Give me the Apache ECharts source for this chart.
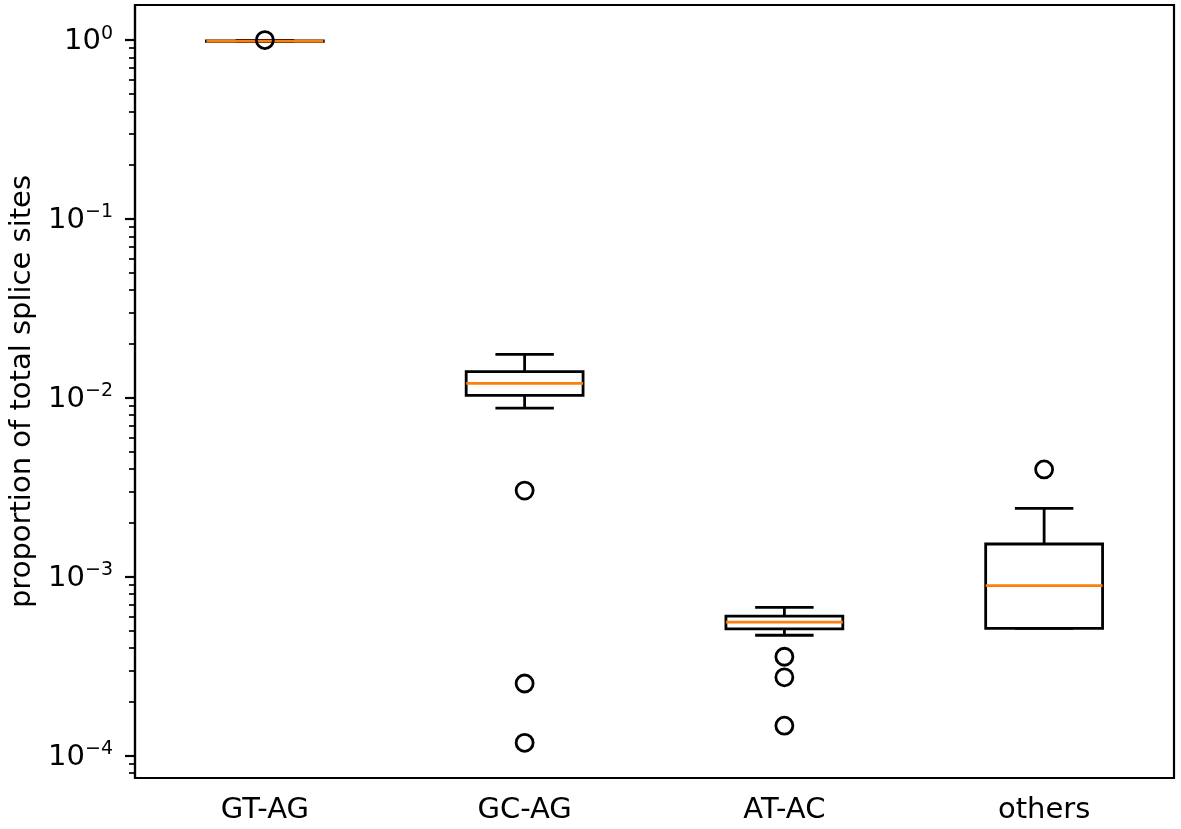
<!DOCTYPE html>
<html><head><meta charset="utf-8">
<script src="https://cdn.jsdelivr.net/npm/echarts@6/dist/echarts.min.js"></script>
<style>html,body{margin:0;padding:0;background:#fff}#c{width:1181px;height:829px}</style>
</head><body><div id="c"></div>
<script>
// ---- data ----
const categories = ['GT-AG', 'GC-AG', 'AT-AC', 'others'];
const lowerWhisker = [0.984, 0.00877, 0.000471, 0.000515];
const quartile1    = [0.985, 0.01033, 0.000511, 0.000515];
const medians      = [0.987, 0.01206, 0.000558, 0.000891];
const quartile3    = [0.989, 0.01400, 0.000603, 0.001524];
const upperWhisker = [0.997, 0.01750, 0.000675, 0.00241];
const outlierCategory = [0, 1, 1, 1, 2, 2, 2, 3];
const outlierValue    = [1.0, 0.00303, 0.000253, 0.000118, 0.000357, 0.000274, 0.000147, 0.00398];
const majorTicks = [1e-4, 1e-3, 1e-2, 1e-1, 1];
const majorTickExponents = ['\u22124', '\u22123', '\u22122', '\u22121', '0'];
const minorTicks = [8e-5, 9e-5,
  2e-4, 3e-4, 4e-4, 5e-4, 6e-4, 7e-4, 8e-4, 9e-4,
  2e-3, 3e-3, 4e-3, 5e-3, 6e-3, 7e-3, 8e-3, 9e-3,
  2e-2, 3e-2, 4e-2, 5e-2, 6e-2, 7e-2, 8e-2, 9e-2,
  2e-1, 3e-1, 4e-1, 5e-1, 6e-1, 7e-1, 8e-1, 9e-1];
const yLabel = 'proportion of total splice sites';

// ---- chart ----
const yMin = Math.pow(10, -4.125), yMax = Math.pow(10, 0.196);
const FONT = 'DejaVu Sans';
const boxData = categories.map((c, i) => [i, lowerWhisker[i], quartile1[i], medians[i], quartile3[i], upperWhisker[i]]);
const outlierData = outlierValue.map((v, i) => [outlierCategory[i], v]);

const chart = echarts.init(document.getElementById('c'), null, {renderer: 'canvas'});
const black = '#000';
const LW = 2.8;
chart.setOption({
  animation: false,
  grid: {left: 135, right: 7, top: 5, bottom: 51, show: true, borderColor: black, borderWidth: 2.2, backgroundColor: 'transparent'},
  xAxis: {
    type: 'category', data: categories, boundaryGap: true,
    axisLine: {lineStyle: {color: black, width: 2.2}},
    axisTick: {alignWithLabel: true, length: 10, lineStyle: {color: black, width: 2.2}},
    axisLabel: {color: black, fontSize: 29, fontFamily: FONT, margin: 18},
    splitLine: {show: false}
  },
  yAxis: [{
    type: 'log', logBase: 10, min: yMin, max: yMax,
    name: yLabel, nameLocation: 'middle', nameRotate: 90, nameGap: 96,
    nameTextStyle: {color: black, fontSize: 29, fontFamily: FONT},
    axisLine: {show: true, lineStyle: {color: black, width: 2.2}},
    axisTick: {show: true, length: 10, customValues: majorTicks, lineStyle: {color: black, width: 2.2}},
    axisLabel: {
      customValues: majorTicks, margin: 22, color: black, fontFamily: FONT, fontSize: 29,
      formatter: function (v) {
        let best = 0, bd = Infinity;
        majorTicks.forEach((t, i) => { const d = Math.abs(Math.log10(t) - Math.log10(v)); if (d < bd) { bd = d; best = i; } });
        return '{b|10}{s|' + majorTickExponents[best] + '}';
      },
      rich: {
        b: {fontSize: 29, fontFamily: FONT, color: black, lineHeight: 32, verticalAlign: 'bottom'},
        s: {fontSize: 19, fontFamily: FONT, color: black, lineHeight: 19, verticalAlign: 'top'}
      }
    },
    splitLine: {show: false}
  }, {
    type: 'log', logBase: 10, min: yMin, max: yMax, position: 'left',
    axisLine: {show: false},
    axisTick: {show: true, length: 6, customValues: minorTicks, lineStyle: {color: black, width: 1.7}},
    axisLabel: {show: false},
    splitLine: {show: false}
  }],
  series: [{
    type: 'custom',
    data: boxData,
    encode: {x: 0, y: [1, 2, 3, 4, 5]},
    renderItem: function (params, api) {
      const x = api.value(0);
      const lw = api.coord([x, api.value(1)]);
      const p1 = api.coord([x, api.value(2)]);
      const pm = api.coord([x, api.value(3)]);
      const p3 = api.coord([x, api.value(4)]);
      const hw = api.coord([x, api.value(5)]);
      const band = api.size([1, 0])[0];
      const bw = band * 0.45, cw = bw / 2;
      const cx = p1[0];
      const ls = {stroke: black, lineWidth: LW, fill: null};
      return {type: 'group', children: [
        {type: 'line', shape: {x1: cx, y1: lw[1], x2: cx, y2: p1[1]}, style: ls},
        {type: 'line', shape: {x1: cx, y1: p3[1], x2: cx, y2: hw[1]}, style: ls},
        {type: 'line', shape: {x1: cx - cw / 2, y1: lw[1], x2: cx + cw / 2, y2: lw[1]}, style: ls},
        {type: 'line', shape: {x1: cx - cw / 2, y1: hw[1], x2: cx + cw / 2, y2: hw[1]}, style: ls},
        {type: 'rect', shape: {x: cx - bw / 2, y: p3[1], width: bw, height: p1[1] - p3[1]}, style: {stroke: black, fill: null, lineWidth: LW}},
        {type: 'line', shape: {x1: cx - bw / 2, y1: pm[1], x2: cx + bw / 2, y2: pm[1]}, style: {stroke: '#ff7f0e', lineWidth: LW}}
      ]};
    },
    z: 2
  }, {
    type: 'scatter',
    data: outlierData,
    symbol: 'circle', symbolSize: 17,
    itemStyle: {color: 'rgba(0,0,0,0)', borderColor: black, borderWidth: LW, opacity: 1},
    z: 3
  }]
});
</script>
</body></html>
